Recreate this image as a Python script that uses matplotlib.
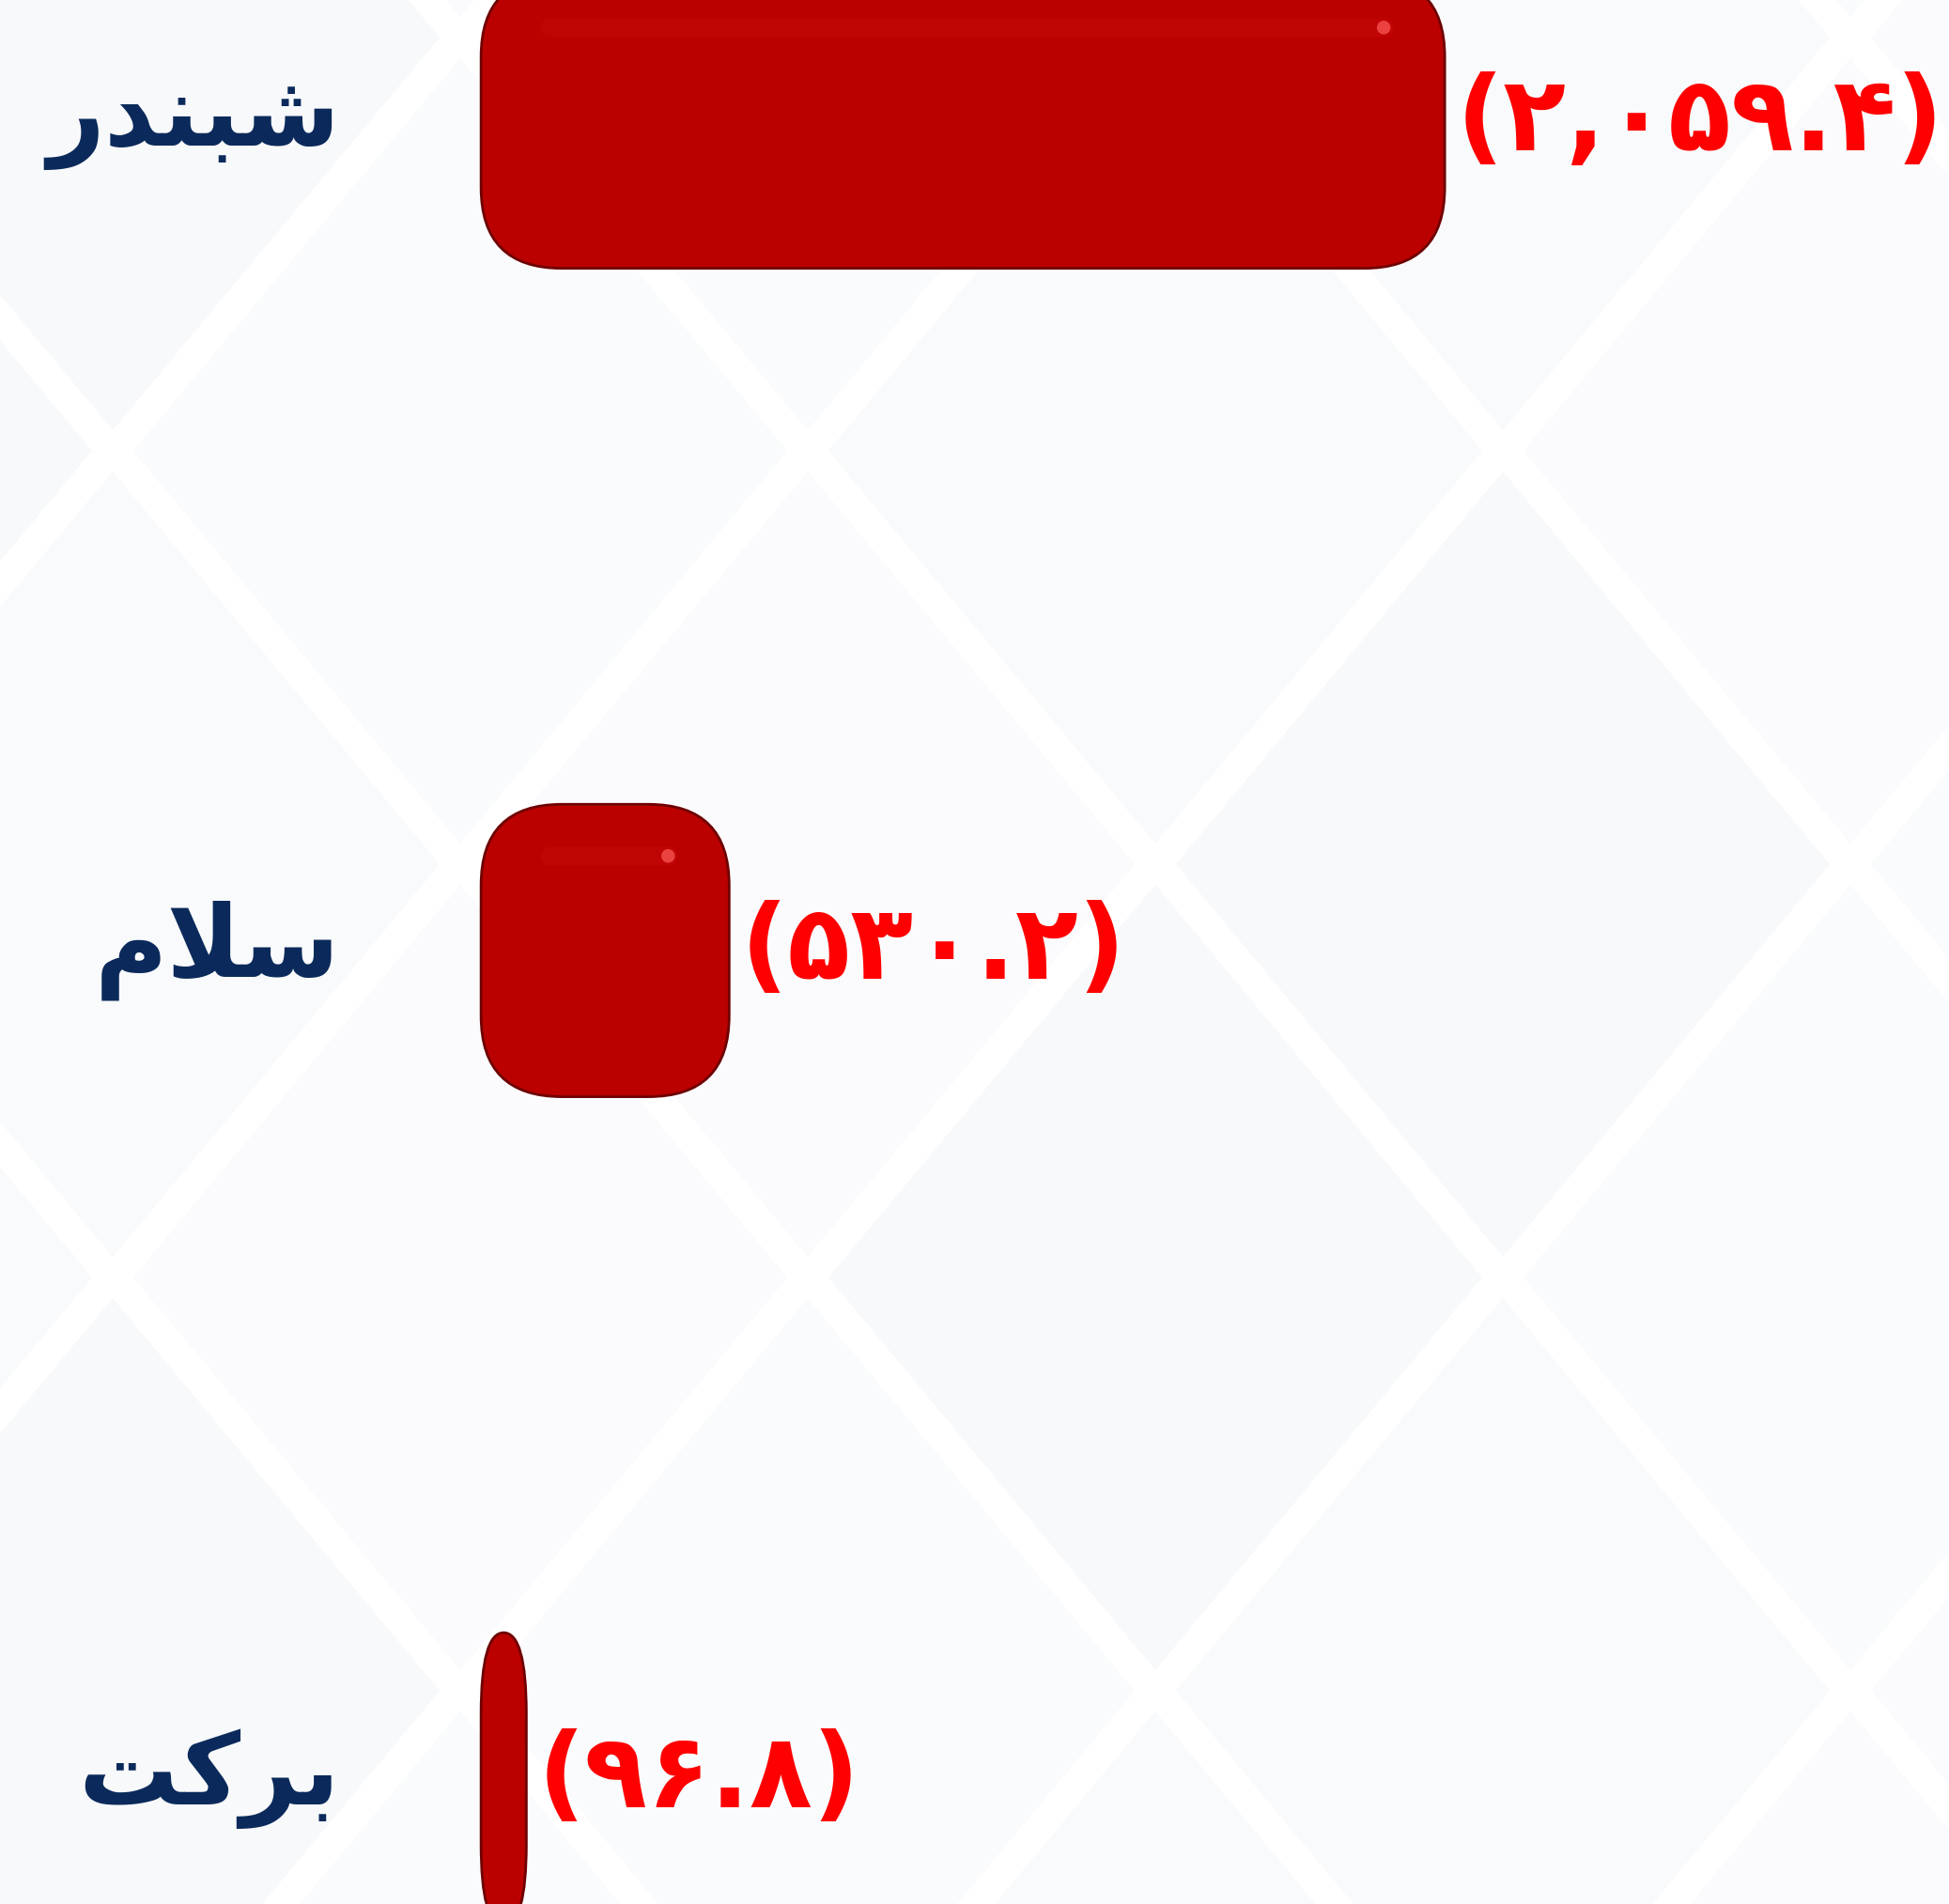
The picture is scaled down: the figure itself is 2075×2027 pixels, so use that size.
import matplotlib
matplotlib.use("Agg")
import matplotlib.pyplot as plt
from matplotlib.patches import FancyBboxPatch, Polygon, BoxStyle

# données (valeurs négatives affichées entre parenthèses)
categories = ["شبندر", "سلام", "برکت"]
values = [-2059.4, -530.2, -96.8]

BAR_COLOR = "#bb0000"
LABEL_COLOR = "#0b2a5b"
VALUE_COLOR = "#ff0000"

# formes de présentation arabes (isolée, finale, initiale, médiane)
FORMS = {
    "ا": ("\uFE8D", "\uFE8E", None, None),
    "ب": ("\uFE8F", "\uFE90", "\uFE91", "\uFE92"),
    "ت": ("\uFE95", "\uFE96", "\uFE97", "\uFE98"),
    "د": ("\uFEA9", "\uFEAA", None, None),
    "ر": ("\uFEAD", "\uFEAE", None, None),
    "س": ("\uFEB1", "\uFEB2", "\uFEB3", "\uFEB4"),
    "ش": ("\uFEB5", "\uFEB6", "\uFEB7", "\uFEB8"),
    "ل": ("\uFEDD", "\uFEDE", "\uFEDF", "\uFEE0"),
    "م": ("\uFEE1", "\uFEE2", "\uFEE3", "\uFEE4"),
    "ن": ("\uFEE5", "\uFEE6", "\uFEE7", "\uFEE8"),
    "ک": ("\uFB8E", "\uFB8F", "\uFB90", "\uFB91"),
}


def shape(word):
    out = []
    prev_joins = False
    i = 0
    while i < len(word):
        c = word[i]
        if c == "ل" and i + 1 < len(word) and word[i + 1] == "ا":
            out.append("\uFEFC" if prev_joins else "\uFEFB")
            prev_joins = False
            i += 2
            continue
        iso, fin, ini, med = FORMS[c]
        nxt = word[i + 1] if i + 1 < len(word) else None
        can_next = ini is not None and nxt in FORMS
        if prev_joins and can_next:
            out.append(med)
        elif prev_joins:
            out.append(fin)
        elif can_next:
            out.append(ini)
        else:
            out.append(iso)
        prev_joins = can_next
        i += 1
    return "".join(reversed(out))


def persian_num(v):
    s = format(abs(v), ",.1f")
    return "(" + s.translate(str.maketrans("0123456789", "۰۱۲۳۴۵۶۷۸۹")) + ")"


W, H = 2075, 2027
fig = plt.figure(figsize=(W / 100, H / 100), dpi=100)
fig.patch.set_facecolor("white")

# fond : losanges très pâles
bg = fig.add_axes([0, 0, 1, 1], zorder=0)
bg.set_xlim(0, W)
bg.set_ylim(H, 0)
bg.axis("off")
shades = ["#f9fafb", "#fbfbfd", "#f8f9fb", "#fafbfc"]
k = 0
for row in range(-1, 8):
    cy = row * 440 + 40
    off = 370 if row % 2 else 0
    for col in range(-1, 4):
        cx = col * 740 + off + 120
        hw, hh = 348, 418
        bg.add_patch(Polygon([(cx, cy - hh), (cx + hw, cy), (cx, cy + hh), (cx - hw, cy)],
                             closed=True, facecolor=shades[k % 4], edgecolor="none"))
        k += 1

ax = fig.add_axes([0, 0, 1, 1], zorder=1)
ax.patch.set_alpha(0)
ax.set_xlim(-1028, 3137)
ax.set_ylim(2.151, -0.1474)
ax.axis("off")

px_x = W / (3137 + 1028)      # pixels par unité x
px_y = H / (2.151 + 0.1474)   # pixels par unité y
bar_h = 0.353
r_px = 86

for i, (cat, v) in enumerate(zip(categories, values)):
    w = abs(v)
    y0 = i - bar_h / 2
    rx = min(r_px / px_x, w / 2)
    ry = r_px / px_y
    bar = FancyBboxPatch((0, y0), w, bar_h,
                         boxstyle=BoxStyle.Round(pad=0, rounding_size=rx),
                         mutation_aspect=ry / rx,
                         facecolor=BAR_COLOR, edgecolor="#6e0000", linewidth=2)
    ax.add_patch(bar)
    # reflet en haut de la barre
    if w * px_x > 200:
        hy = y0 + 55 / px_y
        ax.plot([73 / px_x, w - 65 / px_x], [hy, hy], color="#c50a0a", lw=14,
                solid_capstyle="round", alpha=0.6)
        ax.scatter([w - 65 / px_x], [hy], s=110, color="#ff5b5b", alpha=0.7,
                   edgecolors="none", zorder=3)

    ax.text(-150 / px_x, i, shape(cat), ha="right", va="center",
            fontsize=76, fontweight="bold", color=LABEL_COLOR, family="DejaVu Sans")
    ax.text(w + 12 / px_x, i, persian_num(v), ha="left", va="center",
            fontsize=79, fontweight="bold", color=VALUE_COLOR, family="DejaVu Sans")

fig.savefig("out.png", dpi=100)
